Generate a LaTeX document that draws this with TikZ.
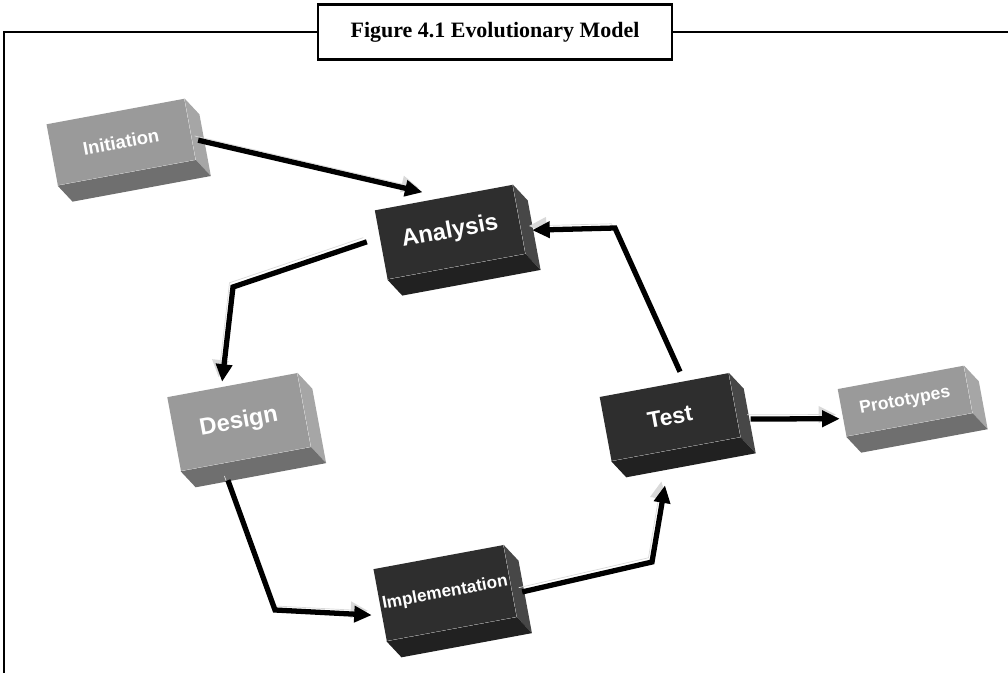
\documentclass[tikz,border=0pt]{standalone}
\usepackage{fontspec}
\setmainfont{Liberation Serif}
\setsansfont{Liberation Sans}
\usetikzlibrary{arrows.meta}
\definecolor{boxlite}{HTML}{9A9A9A}
\definecolor{boxdark}{HTML}{2E2E2E}
\tikzset{
  blockbox/.style={rotate=10.5, inner sep=0pt, text=white, font=\sffamily\bfseries},
  litebox/.style={blockbox, fill=boxlite},
  darkblock/.style={blockbox, fill=boxdark},
  conn/.style={line width=3pt, -{Triangle[length=10pt,width=9pt]},
    preaction={draw=gray!30, transform canvas={shift={(-2pt,2.4pt)}}}}
}
\begin{document}
\begin{tikzpicture}[x=0.02cm, y=-0.02cm]
  \useasboundingbox (0,0) rectangle (1008,673);
  % frame and title
  \node[draw, line width=1.2pt, fill=white, minimum width=7.08cm, minimum height=1.1cm,
    font=\bfseries\fontsize{12.5}{12.5}\selectfont] (title) at (495,32) {Figure 4.1 Evolutionary Model};
  \draw[line width=1.1pt] (title.west) -- ++(-313,0) -- ++(0,641);
  \draw[line width=1.1pt] (title.east) -- ++(336,0);
  % blocks
  \node[litebox, minimum width=2.8cm, minimum height=1.24cm, font=\sffamily\bfseries\fontsize{10.5}{10.5}\selectfont] (init) at (121,142) {Initiation};
  \node[darkblock, minimum width=2.8cm, minimum height=1.4cm, font=\sffamily\bfseries\fontsize{13.5}{13.5}\selectfont] (ana) at (450,232) {Analysis};
  \node[litebox, minimum width=2.64cm, minimum height=1.5cm, font=\sffamily\bfseries\fontsize{13.5}{13.5}\selectfont] (des) at (239,422) {Design};
  \node[darkblock, minimum width=2.62cm, minimum height=1.3cm, font=\sffamily\bfseries\fontsize{13}{13}\selectfont] (test) at (670,417) {Test};
  \node[litebox, minimum width=2.56cm, minimum height=0.96cm, font=\sffamily\bfseries\fontsize{10}{10}\selectfont] (proto) at (905,401) {Prototypes};
  \node[darkblock, minimum width=2.64cm, minimum height=1.46cm, font=\sffamily\bfseries\fontsize{9.8}{9.8}\selectfont] (impl) at (445,593) {Implementation};
  % side and bottom faces
  \foreach \n/\c in {init/boxlite, des/boxlite, proto/boxlite, ana/boxdark, test/boxdark, impl/boxdark} {
    \fill[\c!88!white] (\n.north east) -- ++(15,16) -- ([shift={(15,16)}]\n.south east) -- (\n.south east) -- cycle;
    \fill[\c!72!black] (\n.south west) -- (\n.south east) -- ([shift={(15,16)}]\n.south east) -- ([shift={(15,16)}]\n.south west) -- cycle;
  }
  % bends
  \coordinate (b1) at (233,287);
  \coordinate (b2) at (275,610);
  \coordinate (b3) at (652,562);
  \coordinate (b4) at (615,228);
  % connectors
  \draw[conn] ([shift={(8,11)}]init.east) -- ([shift={(-21,-5)}]ana.north);
  \draw[conn] ([shift={(-14,-3)}]ana.west) -- (b1) -- ([shift={(-10,-3)}]des.north);
  \draw[conn] ([shift={(-18,21)}]des.south) -- (b2) -- ([shift={(-8,10)}]impl.west);
  \draw[conn] ([shift={(12,11)}]impl.east) -- (b3) -- ([shift={(-11,36)}]test.south);
  \draw[conn] ([shift={(16,-13)}]test.north) -- (b4) -- ([shift={(13,11)}]ana.east);
  \draw[conn] ([shift={(16,14)}]test.east) -- ([shift={(-2,6)}]proto.west);
\end{tikzpicture}
\end{document}
